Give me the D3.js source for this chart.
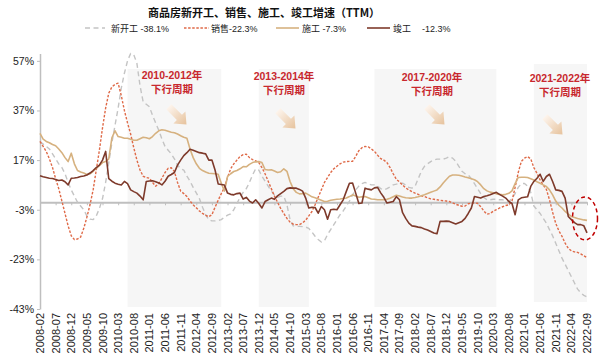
<!DOCTYPE html>
<html><head><meta charset="utf-8">
<script src="https://cdn.jsdelivr.net/npm/d3@7/dist/d3.min.js"></script>
<style>
body{margin:0;background:#fff;}
svg{display:block;font-family:"Liberation Sans",Arial,"Noto Sans CJK SC",sans-serif;}
</style>
</head><body>
<svg id="chart" width="600" height="359"></svg>
<script>
// ---------- DATA ----------
const title = "商品房新开工、销售、施工、竣工增速（TTM）";
const seriesNames = ["新开工", "销售", "施工", "竣工"];
const legendValues = ["-38.1%", "-22.3%", "-7.3%", "-12.3%"];
const firstMonth = "2008-02";
const lastMonth = "2022-09";
const yTickValues = [57, 37, 17, -3, -23, -43];

// 新开工 (monthly, 2008-02 .. 2022-09)
const xinkaigong = [
24.5,23.5,22.5,21.5,19.5,17.5,15.5,14,11.5,8,5,2.5,0,-1.5,-3,-5.5,-6.8,-7,-5.5,-2.5,
1.5,8,16,24,31,38,46,52,57,60,59.5,56,47,40.5,39.5,38.5,35,32,29,25.5,
22.5,21,19.5,17.5,15,13.5,13,10.5,8.5,6,3.8,1.5,-2,-5,-7,-7.5,-7.5,-7.3,-7,-6,
-5.2,-4.7,-3,-0.5,2,4,5.5,8,11,13.5,13,10.5,8.5,6.5,4.5,3,2,2.5,2.5,-1,
-7,-9.5,-9.7,-9.7,-9.8,-10,-10.5,-12,-13.7,-15,-16,-15.5,-13,-11,-9,-7,-5,-3.5,-1.5,0.5,
3,5,6.5,7.5,8,7.5,7,7,6.5,5.5,5,5.5,6.2,7,7.3,7.7,7.7,7,6,5.7,
6.5,9.5,12.5,14.5,15.5,16.4,17,17.4,17.4,17.4,17.8,18.4,17.8,16.5,14.5,12.5,11.5,11,9.5,7.5,
5.5,3.5,2,1,1,1.2,1.2,1,1,0.6,0.3,1.5,3.5,6,7.5,7.6,6.5,4,-1.5,-3,
-4.5,-6.5,-8.4,-11,-13.5,-16.5,-19.5,-22.5,-25,-27.5,-30,-32.5,-35,-36.5,-37.5,-38.1
];
// 销售
const xiaoshou = [
24.5,22.5,20.5,17.5,14,9.5,5.5,0.5,-4.5,-9.5,-13.5,-15,-14.8,-14,-10.5,-6,-1,5,13,21,
30,38,44,46.5,47.5,48,43,37,32,27.5,22,17,13,10.5,10,9.7,8,6.5,7.5,9.7,
12,13.7,13.9,12.4,8,4.5,3.5,2.3,0.5,-1,-2.2,-3.5,-4.5,-5.3,-5.8,-5,-2,0.8,3.5,6,
10,13.5,15.5,17,18.5,19.2,19.4,18,17.2,16.7,16,14,11.5,8.5,5.5,2.5,0,-2.5,-4.5,-6.5,
-8,-8.8,-9,-9,-8.3,-7.2,-5.5,-3.7,-1,2,5,8,10,12,13.5,14.5,15.5,16.2,16.4,16.5,
16.5,18.5,20.8,22,22.5,22.4,21.5,20.5,19,17.6,17,16,14,11.5,9.3,8.2,7,5.8,5,4.3,
3.7,3.2,2.6,2.3,1.8,1.4,1.2,1,0.8,0.6,0.5,0.3,-0.2,-0.8,-1.2,-1.6,-1.5,-0.6,-0.3,-0.3,
-0.4,-1.8,-3.5,-4.8,-4.5,-3.6,-3,-2.3,-1.8,-1.3,-1,0.5,6,12,16.5,17.8,18.4,17.5,14,11.7,
9,7,5.2,1,-4,-8.5,-11.5,-13.7,-16.5,-18.5,-19.6,-20,-20.2,-20.8,-21.6,-22.3
];
// 施工
const shigong = [
27.8,25.5,24.5,24,23.3,22.8,21.5,20,18,16.4,19.8,15.5,12.8,12.2,11.8,11.2,11.5,12.5,13.7,14.8,
16,16.4,17.5,26,28.8,26.5,26.2,25.8,25.8,25.4,25,25,25.6,26.2,26,25.6,26.5,27.8,28.8,29.2,
29,28.6,28.2,28,27.5,26.8,26.2,25.8,21.5,18,15.5,13.7,12.8,12.2,11.7,11.6,11.5,11.3,7.7,4.5,
10.4,11.5,12.4,12.8,13.5,14.4,14.3,15.3,16,16.3,16.4,16,13.2,13,13.1,12.6,12,12.3,13.5,12.5,
8.4,5.5,4,3.4,3.5,3.7,3,2.2,1.8,1.3,0.8,0.3,0.4,0.8,1,1.2,1.3,1.5,1.7,2.3,
3,2.5,2,2.2,2.3,1.8,1.3,1.2,1,1,1,1.2,1.6,2.2,2.8,2.5,2.1,1.8,1.7,1.7,
1.9,2.2,2.6,3,3.5,4,4.5,5,6.2,7.8,9.2,10.5,11,11,10.9,10.6,10.2,9.9,9.5,9.1,
8.3,7,5.5,4.6,4.1,3.8,3.4,3.2,3,3.2,3.6,4.6,7.5,10,10.1,10.1,10,9.5,9,8.3,
7.7,7,6.4,5,3,0.5,-1.2,-2.3,-3.7,-4.8,-5.7,-6.1,-6.5,-6.8,-7.1,-7.3
];
// 竣工
const jungong = [
10.7,10.3,10,9.7,9.6,9.2,8.8,9,8.3,7,9.7,9.8,10,10.4,10.6,11,11.8,12.8,14,15,
17,20.5,9.5,8.5,7.7,7.3,7,8.4,7.5,5,4.3,3.7,2.5,1,8.4,8.6,8.7,8.3,7.8,7,
8.5,10.5,11.2,12,15,17,18.8,20,21.4,21,20.5,20,19.8,19.5,17,17,13,7.4,7.2,7,
3.7,3.2,3,3.5,3.7,1.3,2,0.5,-0.3,1,-0.5,-2.3,0.3,1,1.7,1.2,2.6,3.5,4.4,5.5,
5.8,5.7,5.7,5.2,4.5,1.7,-2.3,-2,-2.1,-4.4,-1.7,-3,-6.8,-3,-2.8,-3,-1,1,4.4,7.7,
7.8,3.7,-0.5,-0.3,5.7,5.3,5,5.8,6,3.8,2,-0.3,0,0.3,2.3,1,-4.2,-6.5,-8.4,-9.5,
-9.7,-10,-10.2,-10.8,-11.2,-11.8,-12.4,-12.7,-7.7,-7.7,-7.6,-7.7,-8.2,-8.7,-8.2,-7.7,-6.5,-4.5,-2.3,2.3,
2,1.7,2.3,2.6,3,3.5,4,3.2,2.5,1.7,0.3,-0.5,-5,1,1.8,2,2.2,6.4,8.4,9.7,
11.3,8.4,10.4,11.3,8.4,5,4.8,4.4,1.7,-5.7,-7,-8.2,-9,-9,-9.5,-12.3
];

// downturn periods (start month, end month, label)
const periodStarts = ["2010-06", "2013-12", "2017-01", "2021-04"];
const periodEnds   = ["2012-12", "2015-04", "2020-04", "2022-09"];
const periodLabels = ["2010-2012年", "2013-2014年", "2017-2020年", "2021-2022年"];
const periodSub = "下行周期";

// ---------- CHART ----------
const svg = d3.select("#chart");
const parse = d3.timeParse("%Y-%m");
const fmt = d3.timeFormat("%Y-%m");
const months = d3.timeMonth.range(parse(firstMonth), d3.timeMonth.offset(parse(lastMonth), 1)).map(fmt);

const x = d3.scalePoint().domain(months).range([40, 587]);
const y = d3.scaleLinear().domain([-43, 60]).range([309, 53.4]);

// shaded periods
const shadeTop = [69, 69, 69, 64];
const shadeBot = [307, 307, 307, 302];
const gShade = svg.append("g");
periodStarts.forEach((s, k) => {
  gShade.append("rect")
    .attr("x", x(s)).attr("y", shadeTop[k])
    .attr("width", x(periodEnds[k]) - x(s))
    .attr("height", shadeBot[k] - shadeTop[k])
    .attr("fill", "#f6f6f6");
});

// gradient for arrows
const defs = svg.append("defs");
const grad = defs.append("linearGradient").attr("id", "arrowGrad")
  .attr("x1", "0").attr("y1", "0").attr("x2", "1").attr("y2", "0");
grad.append("stop").attr("offset", "0%").attr("stop-color", "#fdf4ec");
grad.append("stop").attr("offset", "100%").attr("stop-color", "#e6c29c");

// annotations
const textCx = [172, 284, 432, 560];
const textY1 = [79, 80, 81, 82];
const arrowPos = [[178, 116], [287, 120], [436, 116], [554, 126]];
const gAnn = svg.append("g");
periodLabels.forEach((lab, k) => {
  gAnn.append("text").attr("x", textCx[k]).attr("y", textY1[k])
    .attr("text-anchor", "middle").attr("fill", "#c8282e")
    .attr("font-size", 10.5).attr("font-weight", "bold").text(lab);
  gAnn.append("text").attr("x", textCx[k]).attr("y", textY1[k] + 14)
    .attr("text-anchor", "middle").attr("fill", "#c8282e")
    .attr("font-size", 10.5).attr("font-weight", "bold").text(periodSub);
  gAnn.append("path")
    .attr("d", "M-13,-3.6 L2,-3.6 L2,-8.5 L12,0 L2,8.5 L2,3.6 L-13,3.6 Z")
    .attr("fill", "url(#arrowGrad)")
    .attr("transform", `translate(${arrowPos[k][0]},${arrowPos[k][1]}) rotate(45)`);
});

// axes
const axisColor = "#bfbfbf";
const gy = svg.append("g").attr("transform", "translate(40,0)")
  .call(d3.axisLeft(y).tickValues(yTickValues).tickSize(3).tickSizeOuter(0).tickFormat(d => d + "%"));
gy.select(".domain").attr("stroke", axisColor).attr("stroke-width", 1.5);
gy.selectAll(".tick line").attr("stroke", axisColor);
gy.selectAll(".tick text").attr("font-size", 10.5).attr("fill", "#222")
  .attr("font-family", "Liberation Sans, Arial, sans-serif").attr("x", -6);

const labelMonths = months.filter((m, i) => i % 5 === 0);
const gx = svg.append("g").attr("transform", `translate(0,${y(0)})`)
  .call(d3.axisBottom(x).tickValues(labelMonths).tickSize(3).tickSizeOuter(0).tickFormat(""));
gx.select(".domain").attr("stroke", axisColor).attr("stroke-width", 2);
gx.selectAll(".tick line").attr("stroke", axisColor);

const gxl = svg.append("g");
labelMonths.forEach(m => {
  gxl.append("text")
    .attr("transform", `translate(${x(m) + 4},313) rotate(-90)`)
    .attr("text-anchor", "end").attr("font-size", 11).attr("fill", "#222")
    .text(m);
});

// lines
const series = [
  {vals: xinkaigong, color: "#c4c4c4", w: 1.4, dash: "5,3.5"},
  {vals: xiaoshou, color: "#df6a48", w: 1.4, dash: "2.5,1.6"},
  {vals: shigong, color: "#d6b17f", w: 1.6, dash: null},
  {vals: jungong, color: "#7e3a2b", w: 1.6, dash: null}
];
const line = d3.line().x((d, i) => x(months[i])).y(d => y(d));
series.forEach(s => {
  svg.append("path").datum(s.vals)
    .attr("d", line).attr("fill", "none")
    .attr("stroke", s.color).attr("stroke-width", s.w)
    .attr("stroke-dasharray", s.dash).attr("stroke-linejoin", "round");
});

// dashed ellipse at latest values
svg.append("ellipse")
  .attr("cx", x(lastMonth) - 2).attr("cy", y(-6.5))
  .attr("rx", 12.5).attr("ry", 21.5)
  .attr("fill", "none").attr("stroke", "#c00000").attr("stroke-width", 1.5)
  .attr("stroke-dasharray", "4,3");

// title
svg.append("text").attr("x", 264).attr("y", 17).attr("text-anchor", "middle")
  .attr("font-size", 11).attr("font-weight", "bold").attr("fill", "#111")
  .attr("font-family", "Noto Sans CJK SC, sans-serif").text(title);

// legend
const legSw = [[85, 105], [184, 209], [276, 299], [367, 390]];
const legTx = [111, 211, 302, 393];
const legY = 28;
const gl = svg.append("g").attr("font-size", 9).attr("fill", "#222");
series.forEach((s, k) => {
  gl.append("line").attr("x1", legSw[k][0]).attr("x2", legSw[k][1])
    .attr("y1", legY).attr("y2", legY)
    .attr("stroke", s.color).attr("stroke-width", s.w)
    .attr("stroke-dasharray", s.dash);
});
gl.append("text").attr("x", legTx[0]).attr("y", legY + 3.5).text(seriesNames[0] + " " + legendValues[0]);
gl.append("text").attr("x", legTx[1]).attr("y", legY + 3.5).text(seriesNames[1] + legendValues[1]);
gl.append("text").attr("x", legTx[2]).attr("y", legY + 3.5).text(seriesNames[2] + " " + legendValues[2]);
gl.append("text").attr("x", legTx[3]).attr("y", legY + 3.5).text(seriesNames[3]);
gl.append("text").attr("x", 422).attr("y", legY + 3.5).text(legendValues[3]);
</script>
</body></html>
